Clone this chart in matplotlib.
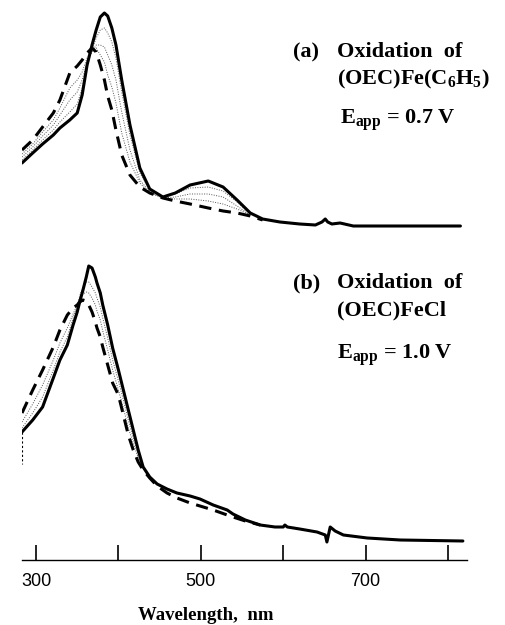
import matplotlib
matplotlib.use("Agg")
import matplotlib.pyplot as plt

plt.rcParams["mathtext.fontset"] = "custom"
plt.rcParams["mathtext.rm"] = "Liberation Serif:bold"
plt.rcParams["mathtext.bf"] = "Liberation Serif:bold"
plt.rcParams["mathtext.it"] = "Liberation Serif:bold"

# panel (a): oxidation of (OEC)Fe(C6H5), Eapp = 0.7 V
wl_a = [283, 296, 308, 321, 329, 341, 350, 356, 362, 368, 373, 378, 383, 387,
        392, 397, 404, 414, 426, 438, 454, 469, 487, 509, 527, 544, 560, 575,
        596, 620, 639, 647, 651, 654, 659, 669, 685, 717, 758, 815]
a_final = [0.87, 0.97, 1.06, 1.15, 1.22, 1.30, 1.37, 1.55, 1.85, 2.05, 2.20, 2.33,
           2.37, 2.34, 2.22, 2.05, 1.70, 1.25, 0.82, 0.61, 0.53, 0.57, 0.65, 0.69,
           0.63, 0.50, 0.37, 0.31, 0.28, 0.26, 0.25, 0.28, 0.31, 0.28, 0.26, 0.27,
           0.24, 0.24, 0.24, 0.24]
a_initial = [1.00, 1.10, 1.23, 1.37, 1.50, 1.77, 1.84, 1.90, 1.97, 2.02, 1.98, 1.85,
             1.70, 1.54, 1.40, 1.20, 0.95, 0.75, 0.63, 0.57, 0.52, 0.49, 0.46, 0.42,
             0.39, 0.37, 0.34, 0.30]
a_mid = [
    [0.90, 1.00, 1.10, 1.20, 1.28, 1.38, 1.46, 1.62, 1.85, 2.00, 2.12, 2.20, 2.22,
     2.17, 2.08, 1.92, 1.58, 1.15, 0.77, 0.60, 0.53, 0.56, 0.62, 0.63, 0.59, 0.48, 0.36],
    [0.93, 1.03, 1.14, 1.25, 1.35, 1.50, 1.58, 1.70, 1.88, 1.98, 2.05, 2.05, 2.03,
     1.95, 1.85, 1.70, 1.38, 1.00, 0.70, 0.58, 0.52, 0.53, 0.56, 0.56, 0.53, 0.44, 0.35],
    [0.96, 1.06, 1.18, 1.30, 1.42, 1.62, 1.70, 1.78, 1.92, 2.00, 2.02, 1.95, 1.88,
     1.75, 1.63, 1.47, 1.17, 0.88, 0.67, 0.57, 0.52, 0.51, 0.51, 0.49, 0.46, 0.41, 0.35],
]

# panel (b): oxidation of (OEC)FeCl, Eapp = 1.0 V
wl_b = [283, 296, 308, 321, 329, 338, 345, 350, 353, 357, 361, 364, 368, 372,
        374, 378, 381, 387, 393, 400, 406, 412, 418, 424, 430, 438, 447, 459,
        471, 487, 499, 515, 532, 539, 554, 572, 590, 600, 602, 605, 620, 641,
        651, 653, 657, 663, 673, 702, 742, 818]
b_final = [1.28, 1.40, 1.53, 1.82, 2.00, 2.15, 2.35, 2.48, 2.58, 2.70, 2.83, 2.94,
           2.92, 2.83, 2.77, 2.67, 2.55, 2.35, 2.12, 1.90, 1.70, 1.50, 1.30, 1.10,
           0.93, 0.83, 0.76, 0.71, 0.67, 0.64, 0.61, 0.55, 0.50, 0.46, 0.40, 0.35,
           0.33, 0.33, 0.35, 0.33, 0.31, 0.28, 0.25, 0.18, 0.33, 0.29, 0.25, 0.22,
           0.20, 0.19]
b_initial = [1.47, 1.70, 1.90, 2.13, 2.30, 2.45, 2.52, 2.55, 2.58, 2.60, 2.59, 2.55,
             2.48, 2.38, 2.32, 2.23, 2.13, 1.95, 1.77, 1.65, 1.45, 1.25, 1.10, 0.98,
             0.90, 0.82, 0.74, 0.67, 0.62, 0.57, 0.54, 0.50, 0.45, 0.43, 0.39, 0.35]
b_mid = [
    [1.32, 1.47, 1.63, 1.90, 2.08, 2.23, 2.42, 2.54, 2.64, 2.73, 2.78, 2.78, 2.73,
     2.67, 2.62, 2.53, 2.42, 2.22, 2.00, 1.79, 1.60, 1.40, 1.22, 1.05, 0.92, 0.83],
    [1.38, 1.56, 1.75, 2.00, 2.17, 2.32, 2.46, 2.55, 2.62, 2.66, 2.68, 2.67, 2.62,
     2.55, 2.49, 2.40, 2.29, 2.10, 1.90, 1.70, 1.52, 1.32, 1.17, 1.02, 0.92, 0.82],
]
b_edge_wl = [283, 283]
b_edge = [1.28, 0.96]

ticks = [300, 400, 500, 600, 700, 800]
tick_labels = ["300", "", "500", "", "700", ""]

W, H = 506, 625
fig = plt.figure(figsize=(W / 100, H / 100), dpi=100)
ax_a = fig.add_axes([22 / W, 1 - 250 / H, 445 / W, 250 / H])
ax_b = fig.add_axes([22 / W, 1 - 560 / H, 445 / W, 310 / H])

dash = (0, (4, 2.5))
for ax, wl, fin, ini, mids in [(ax_a, wl_a, a_final, a_initial, a_mid),
                               (ax_b, wl_b, b_final, b_initial, b_mid)]:
    for m in mids:
        ax.plot(wl[:len(m)], m, color="#555555", lw=0.7, ls=(0, (1, 1.5)))
    ax.plot(wl[:len(ini)], ini, color="black", lw=2.2, ls=dash)
    ax.plot(wl, fin, color="black", lw=2.2, solid_capstyle="round",
            solid_joinstyle="round")
    ax.set_xlim(283, 823)
    for s in ["top", "right", "left"]:
        ax.spines[s].set_visible(False)
    ax.set_yticks([])
    ax.patch.set_alpha(0)

ax_b.plot(b_edge_wl, b_edge, color="black", lw=0.8, ls=(0, (2, 2)))

ax_a.set_ylim(0, 2.5)
ax_a.spines["bottom"].set_visible(False)
ax_a.set_xticks([])

ax_b.set_ylim(0, 3.1)
ax_b.spines["bottom"].set_linewidth(1.0)
ax_b.set_xticks(ticks)
ax_b.set_xticklabels(tick_labels, family="Liberation Sans", fontsize=13)
ax_b.tick_params(axis="x", direction="in", length=11, width=1.2, pad=9)

serif = dict(family="Liberation Serif", fontweight="bold", fontsize=16,
             transform=fig.transFigure, va="center")
fig.text(293 / W, 1 - 52 / H, "(a)", **serif)
fig.text(337 / W, 1 - 52 / H, "Oxidation  of", **serif)
fig.text(337 / W, 1 - 79 / H, r"(OEC)Fe(C$_6$H$_5$)", **serif)
fig.text(340 / W, 1 - 120 / H, r"E$_{\mathrm{app}}$ = 0.7 V", **serif)
fig.text(293 / W, 1 - 283 / H, "(b)", **serif)
fig.text(337 / W, 1 - 283 / H, "Oxidation  of", **serif)
fig.text(337 / W, 1 - 310 / H, "(OEC)FeCl", **serif)
fig.text(337 / W, 1 - 355 / H, r"E$_{\mathrm{app}}$ = 1.0 V", **serif)

fig.text(206 / W, 1 - 615 / H, "Wavelength,  nm", family="Liberation Serif",
         fontweight="bold", fontsize=13.5, ha="center", va="center")

fig.savefig("out.png", dpi=100)
